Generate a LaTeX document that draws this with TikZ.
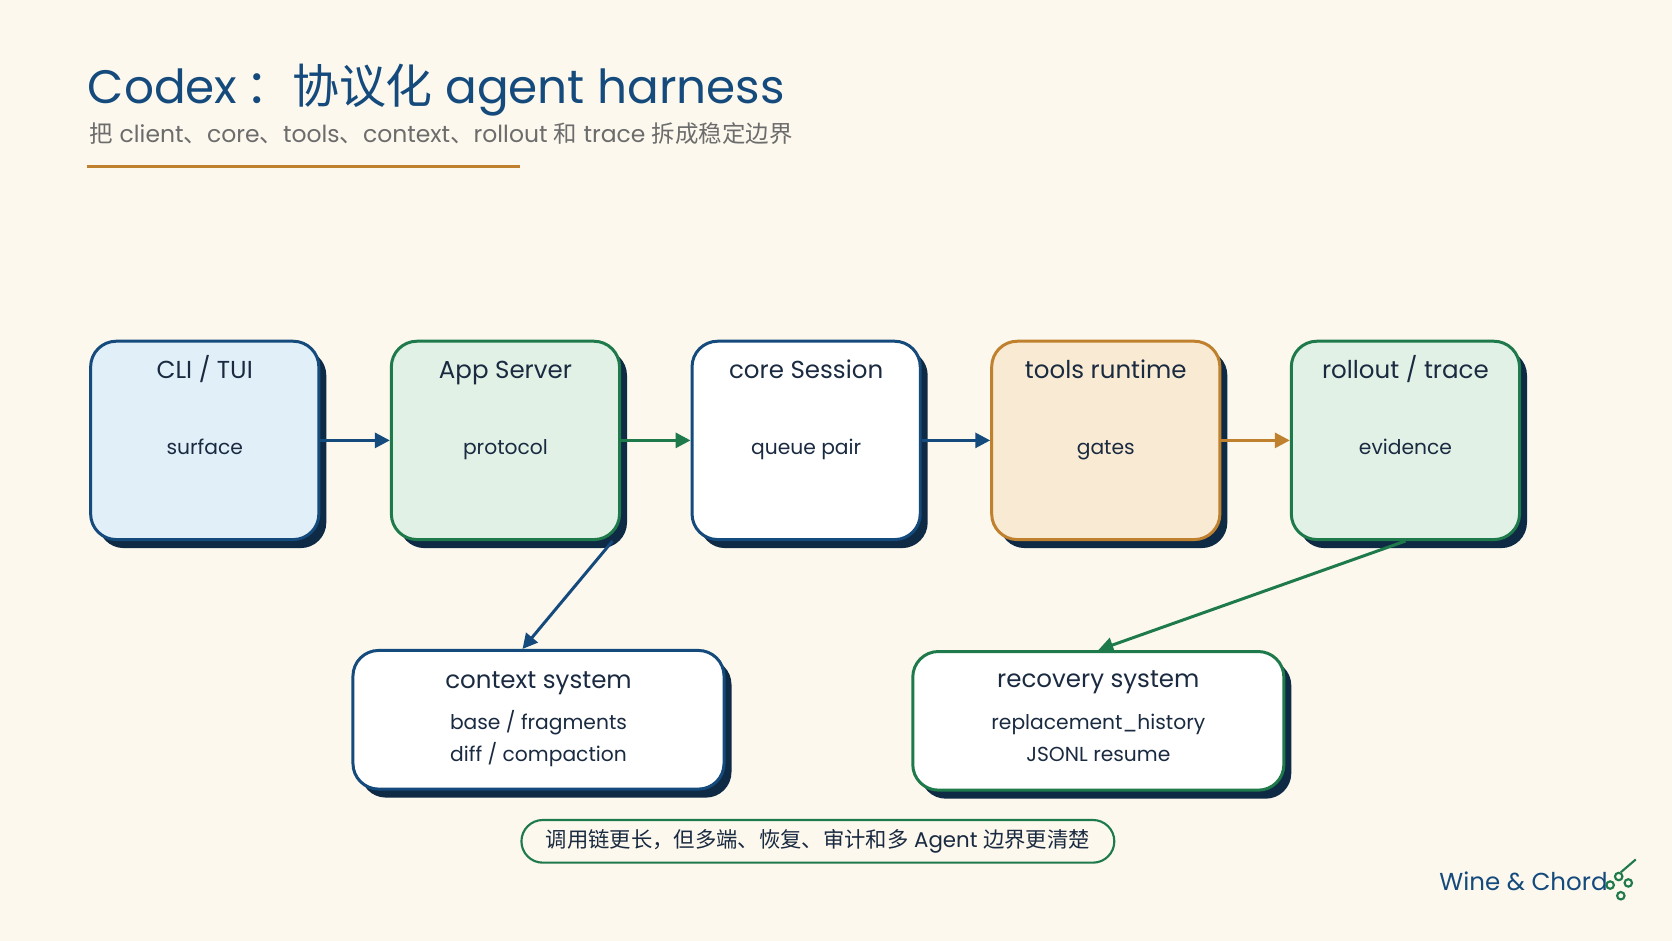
\documentclass[tikz,border=0pt]{standalone}
\usepackage{fontspec}
\setmainfont{Poppins}
\newfontfamily\cjk{Noto Sans CJK SC}
\usetikzlibrary{positioning,calc,arrows.meta}
\definecolor{paper}{HTML}{FCF8EE}
\definecolor{navy}{HTML}{144A7C}
\definecolor{leaf}{HTML}{1E7A4A}
\definecolor{amber}{HTML}{C0812E}
\definecolor{ink}{HTML}{1A2A40}
\definecolor{shade}{HTML}{0F2A44}
\definecolor{skyfill}{HTML}{E1EFF8}
\definecolor{mintfill}{HTML}{E1F1E6}
\definecolor{sandfill}{HTML}{F9EAD3}
\tikzset{
  stage/.style={rounded corners=12pt,line width=1.4pt,minimum width=107pt,minimum height=93pt,
    draw=#1,text=ink,align=center,
    preaction={fill=shade,draw=none,transform canvas={xshift=3.5pt,yshift=-4pt}}},
  wide/.style={stage=#1,minimum width=174pt,minimum height=65pt,fill=white},
  flow/.style={line width=1.4pt,draw=#1,-{Triangle[length=7pt,width=7pt]}},
  big/.style={font=\fontsize{11.5}{14}\selectfont,anchor=base},
  small/.style={font=\fontsize{9.5}{12}\selectfont,anchor=base}
}
\begin{document}
\begin{tikzpicture}[x=0.5pt,y=-0.5pt]
  \fill[paper] (0,0) rectangle (1568,882);
  \node[anchor=base west,text=navy,font=\fontsize{22}{26}\selectfont,inner sep=0] (title) at (82,97)
    {Codex\,{\cjk ：协议化} agent harness};
  \node[anchor=base west,text=gray!85!black,font=\fontsize{11}{14}\selectfont,inner sep=0] (sub) at (84,134)
    {{\cjk 把} client{\cjk 、}core{\cjk 、}tools{\cjk 、}context{\cjk 、}rollout {\cjk 和} trace {\cjk 拆成稳定边界}};
  \draw[amber,line width=1.5pt] (82,156) -- (488,156);

  % top row
  \node[stage=navy,fill=skyfill] (cli) at (192,413) {};
  \node[stage=leaf,fill=mintfill] (app) at (474,413) {};
  \node[stage=navy,fill=white] (core) at (756,413) {};
  \node[stage=amber,fill=sandfill] (tools) at (1037,413) {};
  \node[stage=leaf,fill=mintfill] (trace) at (1318,413) {};
  \foreach \n/\t/\s in {cli/{CLI / TUI}/surface, app/App Server/protocol, core/core Session/queue pair,
      tools/tools runtime/gates, trace/{rollout / trace}/evidence}{
    \node[big,text=ink] at ($(\n.north)+(0,36)$) {\t};
    \node[small,text=ink] at ($(\n.center)+(0,13)$) {\s};
  }

  % bottom row
  \node[wide=navy] (ctx) at (505,675) {};
  \node[big,text=ink] at ($(ctx.north)+(0,37)$) {context system};
  \node[small,text=ink] at ($(ctx.center)+(0,9)$) {base / fragments};
  \node[small,text=ink] at ($(ctx.center)+(0,39)$) {diff / compaction};
  \node[wide=leaf] (rec) at (1030,676) {};
  \node[big,text=ink] at ($(rec.north)+(0,35)$) {recovery system};
  \node[small,text=ink] at ($(rec.center)+(0,8)$) {replacement\_history};
  \node[small,text=ink] at ($(rec.center)+(0,38)$) {JSONL resume};

  \draw[flow=navy] (cli) -- (app);
  \draw[flow=leaf] (app) -- (core);
  \draw[flow=navy] (core) -- (tools);
  \draw[flow=amber] (tools) -- (trace);
  \draw[flow=navy] (app.south east) ++(-8,0) -- (ctx.north -| 490,0);
  \draw[flow=leaf] (trace.south) -- (rec.north);

  \node[draw=leaf,line width=1pt,rounded corners=10pt,fill=paper,minimum width=278pt,minimum height=20pt,
    font=\fontsize{10}{12}\selectfont,text=ink] (note) at (767,789)
    {{\cjk 调用链更长，但多端、恢复、审计和多} Agent {\cjk 边界更清楚}};

  \node[anchor=base east,text=navy,font=\fontsize{11.5}{14}\selectfont,inner sep=0] (logo) at (1508,835) {Wine \& Chord};
  \draw[leaf,line width=1pt] (1520,818) -- (1534,806);
  \foreach \p in {(1510,830),(1518,822),(1527,828),(1520,840)} \draw[leaf,line width=1pt] \p circle (3.5);
\end{tikzpicture}
\end{document}
